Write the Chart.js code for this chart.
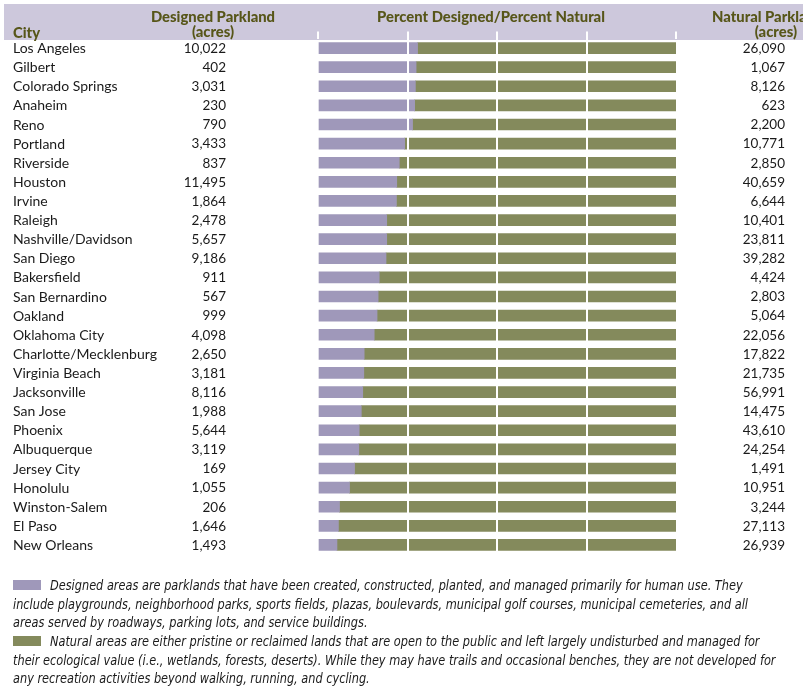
<!DOCTYPE html>
<html><head><meta charset="utf-8">
<script src="https://cdn.jsdelivr.net/npm/chart.js@4"></script>
<style>html,body{margin:0;padding:0;background:#fff;}#wrap{width:803px;height:688px;position:relative;}</style>
</head><body><div id="wrap"><canvas id="c" width="803" height="688"></canvas></div>
<script>
const cities = ["Los Angeles","Gilbert","Colorado Springs","Anaheim","Reno","Portland","Riverside","Houston","Irvine","Raleigh","Nashville/Davidson","San Diego","Bakersfield","San Bernardino","Oakland","Oklahoma City","Charlotte/Mecklenburg","Virginia Beach","Jacksonville","San Jose","Phoenix","Albuquerque","Jersey City","Honolulu","Winston-Salem","El Paso","New Orleans"];
const designedAcres = ["10,022","402","3,031","230","790","3,433","837","11,495","1,864","2,478","5,657","9,186","911","567","999","4,098","2,650","3,181","8,116","1,988","5,644","3,119","169","1,055","206","1,646","1,493"];
const naturalAcres = ["26,090","1,067","8,126","623","2,200","10,771","2,850","40,659","6,644","10,401","23,811","39,282","4,424","2,803","5,064","22,056","17,822","21,735","56,991","14,475","43,610","24,254","1,491","10,951","3,244","27,113","26,939"];
const percentDesigned = [27.8,27.4,27.2,27.0,26.4,24.2,22.7,22.0,21.9,19.2,19.2,19.0,17.1,16.8,16.5,15.7,12.9,12.8,12.5,12.1,11.5,11.4,10.2,8.8,6.0,5.7,5.3];
const percentNatural = [72.2,72.6,72.8,73.0,73.6,75.8,77.3,78.0,78.1,80.8,80.8,81.0,82.9,83.2,83.5,84.3,87.1,87.2,87.5,87.9,88.5,88.6,89.8,91.2,94.0,94.3,94.7];
const xTicks = [0,25,50,75,100];
const headers = {city:"City", designed:["Designed Parkland","(acres)"], percent:"Percent Designed/Percent Natural", natural:["Natural Parkland","(acres)"]};
const legendDesigned = ["Designed areas are parklands that have been created, constructed, planted, and managed primarily for human use. They","include playgrounds, neighborhood parks, sports fields, plazas, boulevards, municipal golf courses, municipal cemeteries, and all","areas served by roadways, parking lots, and service buildings."];
const legendNatural = ["Natural areas are either pristine or reclaimed lands that are open to the public and left largely undisturbed and managed for","their ecological value (i.e., wetlands, forests, deserts). While they may have trails and occasional benches, they are not developed for","any recreation activities beyond walking, running, and cycling."];

const PURPLE = "#9f98ba", GREEN = "#848a5c", HEAD = "#cdc8dc", OLIVE = "#575619", TXT = "#1a1a1a";
const BODY = "Lato, 'Noto Sans', sans-serif";

const deco = {
  id: "deco",
  beforeDraw(chart) {
    const ctx = chart.ctx;
    ctx.save();
    ctx.fillStyle = HEAD;
    ctx.fillRect(4, 4, 799, 36);
    ctx.restore();
  },
  afterDraw(chart) {
    const ctx = chart.ctx, y = chart.scales.y;
    ctx.save();
    // headers
    ctx.fillStyle = OLIVE;
    ctx.font = "900 14.8px " + BODY;
    ctx.textBaseline = "alphabetic";
    ctx.textAlign = "left";
    ctx.fillText(headers.city, 13, 38);
    ctx.textAlign = "center";
    ctx.fillText(headers.designed[0], 213, 22);
    ctx.fillText(headers.designed[1], 213, 36.5);
    ctx.fillText(headers.percent, 491, 22);
    ctx.textAlign = "left";
    ctx.fillText(headers.natural[0], 712, 22);
    ctx.textAlign = "right";
    ctx.fillText(headers.natural[1], 797, 36.5);
    // rows
    ctx.fillStyle = TXT;
    ctx.textBaseline = "middle";
    cities.forEach((c, i) => {
      const py = y.getPixelForValue(i) + 0.5;
      ctx.font = "14px " + BODY;
      ctx.textAlign = "left";
      ctx.fillText(c, 13, py);
      ctx.font = "13.5px " + BODY;
      ctx.textAlign = "right";
      ctx.fillText(designedAcres[i], 226, py);
      ctx.fillText(naturalAcres[i], 785, py);
    });
    // legend
    ctx.fillStyle = PURPLE;
    ctx.fillRect(13, 580, 28, 10);
    ctx.fillStyle = GREEN;
    ctx.fillRect(13, 636, 28, 10);
    ctx.fillStyle = TXT;
    ctx.font = "italic 14px 'DejaVu Sans Condensed', 'DejaVu Sans', sans-serif";
    ctx.textAlign = "left";
    ctx.textBaseline = "alphabetic";
    const sx = 0.9;
    const put = (l, px, py) => { ctx.save(); ctx.translate(px, py); ctx.scale(sx, 1); ctx.fillText(l, 0, 0); ctx.restore(); };
    legendDesigned.forEach((l, i) => put(l, i === 0 ? 50 : 13, 590 + i * 18.6));
    legendNatural.forEach((l, i) => put(l, i === 0 ? 50 : 13, 646 + i * 18.6));
    ctx.restore();
  }
};

new Chart(document.getElementById("c"), {
  type: "bar",
  data: {
    labels: cities,
    datasets: [
      {label: "Designed", data: percentDesigned, backgroundColor: PURPLE, barThickness: 11, borderWidth: 0},
      {label: "Natural", data: percentNatural, backgroundColor: GREEN, barThickness: 11, borderWidth: 0}
    ]
  },
  options: {
    indexAxis: "y",
    responsive: false,
    animation: false,
    devicePixelRatio: 1,
    layout: {padding: {left: 318, right: 127, top: 31.5, bottom: 133.5}},
    plugins: {legend: {display: false}, tooltip: {enabled: false}},
    scales: {
      x: {
        type: "linear", position: "top", stacked: true, min: 0, max: 100,
        afterBuildTicks: (s) => { s.ticks = xTicks.map(v => ({value: v})); },
        ticks: {display: false},
        border: {display: false},
        grid: {z: 1, lineWidth: 2, tickLength: 7, tickWidth: 2, tickColor: "#ffffff",
          color: (c) => (c.tick && (c.tick.value === 0 || c.tick.value === 100)) ? "rgba(0,0,0,0)" : "#ffffff"}
      },
      y: {
        type: "category", stacked: true, display: false
      }
    }
  },
  plugins: [deco]
});
</script></body></html>
